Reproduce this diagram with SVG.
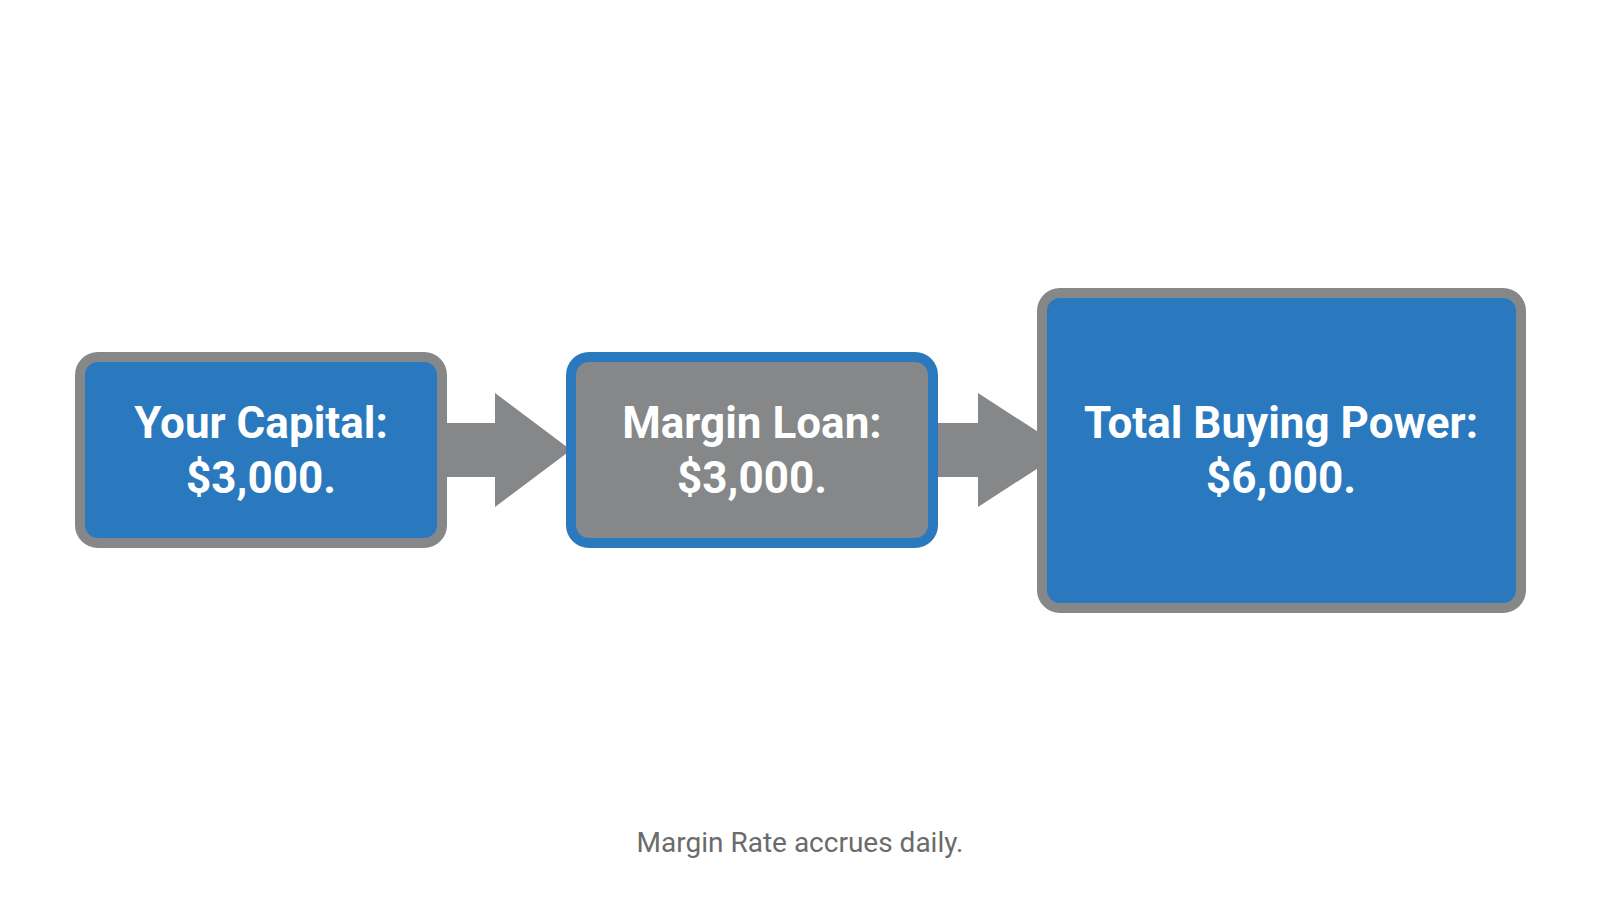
<svg xmlns="http://www.w3.org/2000/svg" width="1600" height="900" viewBox="0 0 1600 900">
<style>
.t{font-family:Roboto,"Liberation Sans",sans-serif;font-weight:bold;font-size:44px;fill:#fff;text-anchor:middle}
.c{font-family:Roboto,"Liberation Sans",sans-serif;font-size:28px;fill:#6b6b6b;text-anchor:middle}
</style>
<rect width="1600" height="900" fill="#fff"/>
<g id="connectors" fill="#858789">
<polygon points="442,423 495,423 495,393 571,450 495,507 495,477 442,477"/>
<polygon points="933,423 978,423 978,393 1066,450 978,507 978,477 933,477"/>
</g>
<g id="capital">
<rect x="80" y="357" width="362" height="186" rx="18" fill="#2a78be" stroke="#858789" stroke-width="10"/>
<text class="t" x="261" y="438">Your Capital:</text>
<text class="t" x="261" y="493">$3,000.</text>
</g>
<g id="loan">
<rect x="571" y="357" width="362" height="186" rx="18" fill="#858789" stroke="#2a78be" stroke-width="10"/>
<text class="t" x="752" y="438">Margin Loan:</text>
<text class="t" x="752" y="493">$3,000.</text>
</g>
<g id="total">
<rect x="1042" y="293" width="479" height="315" rx="18" fill="#2a78be" stroke="#858789" stroke-width="10"/>
<text class="t" x="1281" y="438">Total Buying Power:</text>
<text class="t" x="1281" y="493">$6,000.</text>
</g>
<text class="c" x="800" y="852">Margin Rate accrues daily.</text>
</svg>
